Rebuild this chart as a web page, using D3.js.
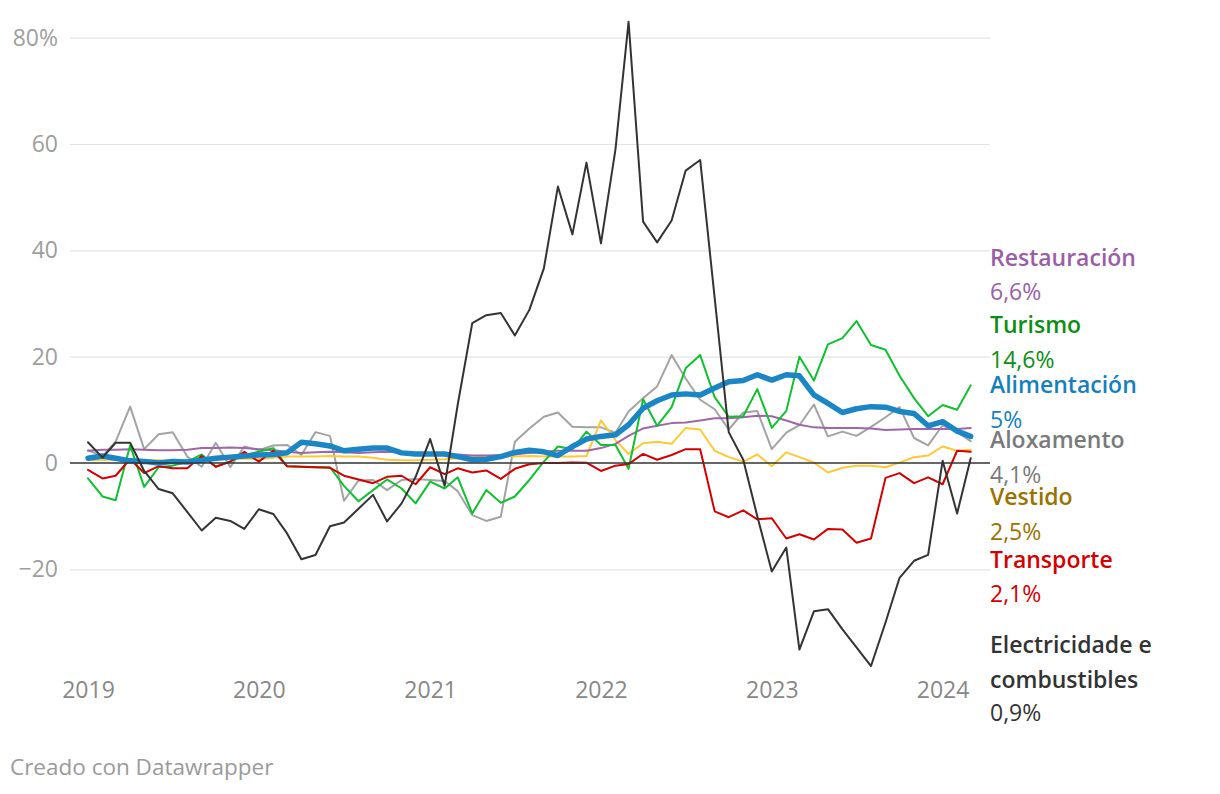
<!DOCTYPE html>
<html>
<head>
<meta charset="utf-8">
<script src="https://cdn.jsdelivr.net/npm/d3@7"></script>
<style>
  html, body { margin: 0; padding: 0; background: #fff; }
  svg { display: block; font-family: "Open Sans", "Noto Sans", sans-serif; }
</style>
</head>
<body>
<svg id="chart" width="1220" height="794"></svg>
<script>
// Monthly data, Jan 2019 – Mar 2024 (annual % change)
const startMonth = "2019-01";
const monthCount = 63;

const electricidade = [3.9, 1.0, 3.8, 3.8, -1.5, -4.9, -5.7, -9.2, -12.7, -10.3, -10.9, -12.4,
  -8.7, -9.6, -13.2, -18.1, -17.3, -11.9, -11.2, -8.6, -6.0, -11.0, -7.6, -2.6,
  4.5, -4.3, 11.0, 26.3, 27.8, 28.2, 24.0, 28.8, 36.6, 52.0, 43.0, 56.5,
  41.3, 59.0, 83.0, 45.4, 41.5, 45.6, 55.0, 57.0, 31.0, 5.8, 0.6, -10.0,
  -20.4, -15.9, -35.1, -27.9, -27.5, -31.3, -34.7, -38.2, -30.0, -21.6, -18.4, -17.3,
  0.4, -9.5, 0.9];

const transporte = [-1.3, -2.9, -2.4, 0.75, -1.9, -0.6, -1.0, -1.0, 1.3, -0.7, 0.25, 2.1,
  0.25, 2.3, -0.6, -0.7, -0.8, -0.9, -2.4, -3.1, -3.8, -2.6, -2.4, -4.0,
  -0.8, -2.1, -1.0, -1.8, -1.4, -3.0, -1.1, -0.25, 0.0, 0.0, 0.1, 0.06,
  -1.5, -0.5, -0.2, 1.7, 0.6, 1.5, 2.6, 2.6, -9.1, -10.2, -8.9, -10.6,
  -10.4, -14.2, -13.4, -14.4, -12.4, -12.5, -15.0, -14.2, -2.8, -1.9, -3.8, -2.7,
  -4.0, 2.3, 2.1];

const vestido = [0.5, 0.6, 0.6, 0.8, 0.5, 0.5, 0.3, 0.4, 0.6, 0.7, 0.8, 0.8,
  0.8, 1.0, 1.2, 1.2, 1.2, 1.3, 1.2, 1.2, 1.0, 0.6, 0.5, 0.5,
  0.6, 0.7, 0.9, 1.2, 1.2, 1.3, 1.2, 1.3, 1.2, 1.2, 1.2, 1.3,
  8.0, 4.3, 1.7, 3.7, 4.0, 3.6, 6.6, 6.3, 2.3, 1.1, 0.25, 1.6,
  -0.6, 2.0, 1.1, 0.1, -1.8, -0.9, -0.5, -0.5, -0.8, 0.06, 1.1, 1.4,
  3.1, 2.3, 2.5];

const restauracion = [2.3, 2.5, 2.5, 2.6, 2.5, 2.4, 2.4, 2.5, 2.8, 2.8, 2.9, 2.8,
  2.6, 2.4, 2.1, 1.9, 2.0, 2.1, 2.0, 1.9, 2.0, 2.1, 2.0, 1.8,
  1.7, 1.7, 1.6, 1.4, 1.4, 1.5, 1.6, 1.9, 2.1, 2.3, 2.3, 2.3,
  2.8, 3.6, 5.1, 6.5, 7.0, 7.5, 7.6, 8.0, 8.4, 8.4, 8.6, 8.9,
  8.8, 8.0, 7.2, 6.7, 6.6, 6.6, 6.6, 6.5, 6.2, 6.3, 6.4, 6.4,
  6.4, 6.4, 6.6];

const alimentacion = [0.9, 1.3, 0.9, 0.4, 0.3, 0.0, 0.3, 0.2, 0.5, 0.9, 1.1, 1.3,
  1.5, 1.6, 1.9, 3.9, 3.6, 3.2, 2.3, 2.6, 2.8, 2.8, 1.9, 1.7,
  1.7, 1.7, 1.2, 0.6, 0.7, 1.2, 2.0, 2.4, 2.1, 1.4, 3.1, 4.5,
  5.0, 5.3, 7.2, 10.3, 11.7, 12.8, 13.0, 12.8, 14.1, 15.3, 15.5, 16.6,
  15.6, 16.6, 16.4, 12.8, 11.2, 9.5, 10.2, 10.6, 10.5, 9.7, 9.3, 7.0,
  7.8, 6.0, 5.0];

const turismo = [-2.9, -6.3, -7.0, 3.3, -4.5, -0.8, -0.5, 0.2, 1.6, -0.7, 0.3, 1.5,
  2.1, 2.8, -0.6, -0.7, -0.8, -0.8, -4.3, -7.2, -5.1, -3.1, -4.8, -7.6,
  -3.5, -4.8, -2.7, -9.5, -5.1, -7.5, -6.3, -3.2, 0.25, 3.1, 2.6, 5.9,
  3.4, 3.4, -1.1, 12.0, 7.0, 10.5, 17.8, 20.3, 12.4, 8.7, 8.8, 13.9,
  6.6, 9.8, 20.0, 15.5, 22.3, 23.5, 26.7, 22.2, 21.3, 16.4, 12.2, 8.8,
  10.9, 10.0, 14.6];

const aloxamento = [2.4, 1.3, 4.0, 10.6, 2.6, 5.4, 5.8, 1.2, -0.7, 3.8, -0.8, 3.1,
  2.4, 3.3, 3.4, 1.5, 5.8, 5.1, -7.1, -3.3, -3.2, -5.1, -3.2, -3.0,
  -3.2, -3.4, -5.3, -9.8, -10.9, -10.1, 4.0, 6.5, 8.7, 9.5, 6.8, 6.7,
  6.7, 5.7, 9.7, 12.2, 14.4, 20.3, 15.9, 11.9, 10.1, 6.3, 9.5, 9.8,
  2.6, 5.7, 7.1, 11.0, 5.0, 5.9, 5.1, 6.8, 8.6, 10.5, 4.7, 3.3,
  7.1, 5.8, 4.1];

const yTicks = [-20, 0, 20, 40, 60, 80];
const yTickLabels = ["\u221220", "0", "20", "40", "60", "80%"];
const xTickYears = [2019, 2020, 2021, 2022, 2023, 2024];

const seriesNames = ["Aloxamento", "Vestido", "Restauración", "Turismo", "Transporte", "Alimentación", "Electricidade e combustibles"];
const seriesData = [aloxamento, vestido, restauracion, turismo, transporte, alimentacion, electricidade];
const lastLabels = ["4,1%", "2,5%", "6,6%", "14,6%", "2,1%", "5%", "0,9%"];

// ---- styling ----
const lineColors = ["#a3a3a3", "#ffc933", "#a066aa", "#0fc12f", "#d40000", "#1b86c6", "#333333"];
const labelColors = ["#7a7a7a", "#9a7200", "#9b5ea6", "#0b8f12", "#d40000", "#1580bd", "#333333"];
const lineWidths = [2, 2, 2, 2, 2, 5.5, 2];

const svg = d3.select("#chart");
const parse = d3.timeParse("%Y-%m");
const months = d3.range(monthCount).map(i => d3.timeMonth.offset(parse(startMonth), i));

const x = d3.scaleTime()
  .domain([months[0], months[months.length - 1]])
  .range([88, 970.7]);
const y = d3.scaleLinear().domain([-20, 80]).range([569.3, 37.7]);

const gridLeft = 70, gridRight = 990;

// grid
const gy = svg.append("g")
  .attr("transform", `translate(${gridLeft},0)`)
  .call(d3.axisLeft(y).tickValues(yTicks).tickSize(-(gridRight - gridLeft)).tickFormat((d, i) => yTickLabels[i]).tickPadding(12));
gy.select(".domain").remove();
gy.selectAll(".tick line").attr("stroke", d => d === 0 ? "none" : "#e3e3e3").attr("stroke-width", 1.2);
gy.selectAll(".tick text")
  .attr("fill", "#9e9e9e")
  .attr("font-size", 23)
  .attr("font-family", "'Open Sans', sans-serif");

// x axis labels
const gx = svg.append("g")
  .attr("transform", "translate(0,692)")
  .call(d3.axisBottom(x).tickValues(xTickYears.map(yr => new Date(yr, 0, 1))).tickSize(0).tickFormat(d3.timeFormat("%Y")));
gx.select(".domain").remove();
gx.selectAll(".tick text")
  .attr("fill", "#888")
  .attr("font-size", 23)
  .attr("dy", 0)
  .attr("y", 0)
  .attr("font-family", "'Open Sans', sans-serif")
  .attr("dominant-baseline", "middle");

// lines
const line = d3.line()
  .x((d, i) => x(months[i]))
  .y(d => y(d))
  .curve(d3.curveLinear);

seriesData.forEach((arr, k) => {
  svg.append("path")
    .datum(arr)
    .attr("fill", "none")
    .attr("stroke", lineColors[k])
    .attr("stroke-width", lineWidths[k])
    .attr("stroke-linejoin", "round")
    .attr("stroke-linecap", "round")
    .attr("d", line);
});

// zero baseline
svg.append("line")
  .attr("x1", gridLeft).attr("x2", gridRight)
  .attr("y1", y(0)).attr("y2", y(0))
  .attr("stroke", "#333").attr("stroke-width", 1.6);

// right labels
const labelBaselines = {
  "Restauración": [266, 300],
  "Turismo": [333, 368],
  "Alimentación": [393, 428],
  "Aloxamento": [448, 483],
  "Vestido": [505, 540],
  "Transporte": [568, 602],
};
const lx = 990;
seriesNames.forEach((name, k) => {
  const g = svg.append("g");
  if (name === "Electricidade e combustibles") {
    g.append("text").attr("x", lx).attr("y", 653).text("Electricidade e")
      .attr("fill", labelColors[k]).attr("font-weight", 600).attr("font-size", 23);
    g.append("text").attr("x", lx).attr("y", 688).text("combustibles")
      .attr("fill", labelColors[k]).attr("font-weight", 600).attr("font-size", 23);
    g.append("text").attr("x", lx).attr("y", 721).text(lastLabels[k])
      .attr("fill", labelColors[k]).attr("font-size", 23);
  } else {
    const [b1, b2] = labelBaselines[name];
    g.append("text").attr("x", lx).attr("y", b1).text(name)
      .attr("fill", labelColors[k]).attr("font-weight", 600).attr("font-size", 23);
    g.append("text").attr("x", lx).attr("y", b2).text(lastLabels[k])
      .attr("fill", labelColors[k]).attr("font-size", 23);
  }
});

// footer
svg.append("text")
  .attr("x", 10).attr("y", 775)
  .attr("fill", "#9a9a9a")
  .attr("font-size", 22.5)
  .text("Creado con Datawrapper");
</script>
</body>
</html>
